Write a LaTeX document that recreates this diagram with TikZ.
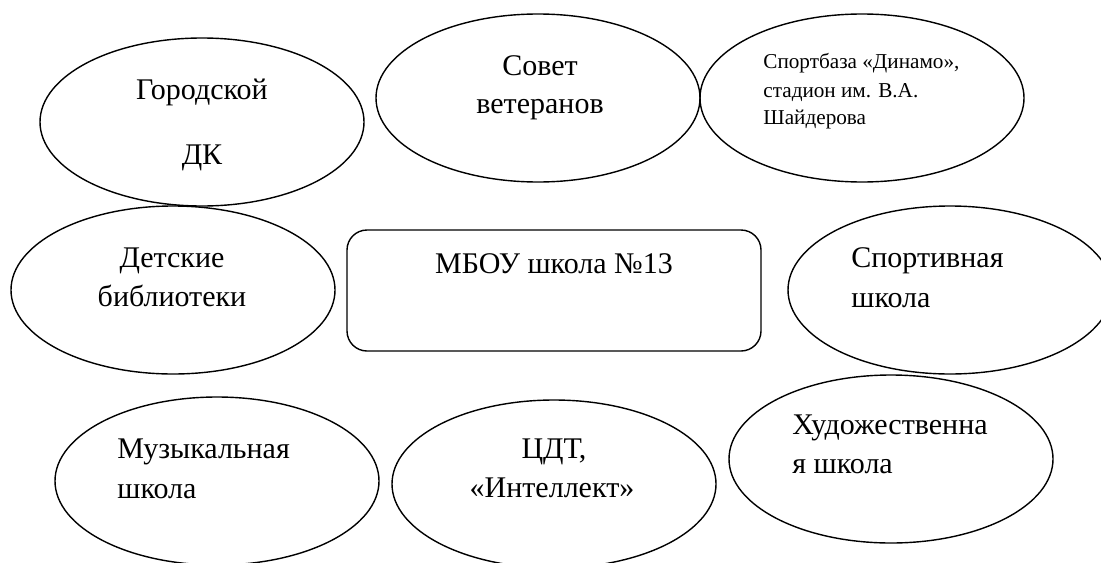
\documentclass[tikz,border=0pt]{standalone}
\usepackage{fontspec}
\setmainfont{Liberation Serif}
\usetikzlibrary{shapes.geometric}

\begin{document}
\begin{tikzpicture}[x=0.5pt, y=-0.5pt]
\tikzset{
  org/.style={ellipse, draw, line width=0.7pt, minimum width=162pt, minimum height=84pt, inner sep=0pt},
  lbl/.style={font=\fontsize{15}{19}\selectfont, inner sep=0pt},
  small/.style={font=\fontsize{10.6}{14}\selectfont, inner sep=0pt}
}
\useasboundingbox (0,0) rectangle (1101,562);
\clip (0,0) rectangle (1101,562);

% partners
\node[org] (dk) at (202,122) {};
\node[org] (sovet) at (538,98) {};
\node[org] (dinamo) at (862,98) {};
\node[org] (bibl) at (173,290) {};
\node[org] (sport) at (950,290) {};
\node[org] (muz) at (217,481) {};
\node[org] (cdt) at (554,484) {};
\node[org] (hud) at (891,459) {};

% school
\node[draw, rounded corners=10pt, line width=0.7pt, minimum width=207pt, minimum height=60.5pt] (school) at (554,290.5) {};

% texts
\node[lbl, anchor=base] (dk1) at (202,99) {Городской};
\node[lbl, anchor=base] (dk2) at (202,164) {ДК};
\node[lbl, anchor=base] (sovet1) at (540,75) {Совет};
\node[lbl, anchor=base] (sovet2) at (540,113) {ветеранов};
\node[small, anchor=base west] (dinamo1) at (763,68) {Спортбаза «Динамо»,};
\node[small, anchor=base west] (dinamo2) at (763,97) {стадион им. В.А.};
\node[small, anchor=base west] (dinamo3) at (763,124) {Шайдерова};
\node[lbl, anchor=base] (bibl1) at (172,267) {Детские};
\node[lbl, anchor=base] (bibl2) at (172,306) {библиотеки};
\node[lbl, anchor=base] (school1) at (554,273) {МБОУ школа №13};
\node[lbl, anchor=base west] (sport1) at (851,267) {Спортивная};
\node[lbl, anchor=base west] (sport2) at (851,307) {школа};
\node[lbl, anchor=base west] (muz1) at (117,458) {Музыкальная};
\node[lbl, anchor=base west] (muz2) at (117,498) {школа};
\node[lbl, anchor=base] (cdt1) at (554,458) {ЦДТ,};
\node[lbl, anchor=base] (cdt2) at (552,497) {«Интеллект»};
\node[lbl, anchor=base west] (hud1) at (792,434) {Художественна};
\node[lbl, anchor=base west] (hud2) at (792,473) {я школа};

\end{tikzpicture}
\end{document}
